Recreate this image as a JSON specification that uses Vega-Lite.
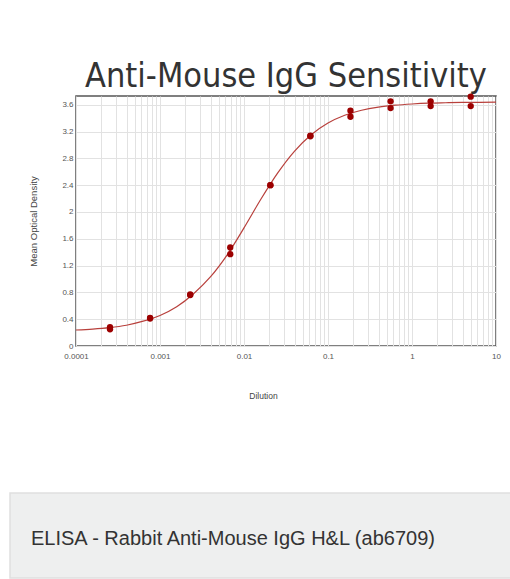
{
  "$schema": "https://vega.github.io/schema/vega-lite/v6.json",
  "background": "white",
  "padding": {"left": 9, "top": 58, "right": 0, "bottom": 0},
  "autosize": {"type": "pad"},
  "spacing": 91,
  "config": {
    "font": "Liberation Sans",
    "axis": {
      "labelFont": "Liberation Sans",
      "labelFontSize": 8,
      "labelColor": "#555555",
      "titleFont": "Liberation Sans",
      "titleFontWeight": "normal",
      "titleColor": "#444444",
      "gridColor": "#e2e2e2",
      "gridWidth": 1
    }
  },
  "datasets": {
    "curve": [
      {"dilution": 0.0001, "od": 0.239},
      {"dilution": 0.000158, "od": 0.252},
      {"dilution": 0.000251, "od": 0.274},
      {"dilution": 0.000398, "od": 0.31},
      {"dilution": 0.000631, "od": 0.37},
      {"dilution": 0.001, "od": 0.455},
      {"dilution": 0.00158, "od": 0.585},
      {"dilution": 0.00251, "od": 0.78},
      {"dilution": 0.00398, "od": 1.03},
      {"dilution": 0.00631, "od": 1.36},
      {"dilution": 0.01, "od": 1.762},
      {"dilution": 0.0158, "od": 2.185},
      {"dilution": 0.0251, "od": 2.579},
      {"dilution": 0.0398, "od": 2.905},
      {"dilution": 0.0631, "od": 3.152},
      {"dilution": 0.1, "od": 3.326},
      {"dilution": 0.158, "od": 3.442},
      {"dilution": 0.251, "od": 3.517},
      {"dilution": 0.398, "od": 3.564},
      {"dilution": 0.631, "od": 3.593},
      {"dilution": 1, "od": 3.611},
      {"dilution": 1.585, "od": 3.623},
      {"dilution": 2.512, "od": 3.629},
      {"dilution": 3.981, "od": 3.634},
      {"dilution": 6.31, "od": 3.636},
      {"dilution": 10, "od": 3.638}
    ],
    "points": [
      {"dilution": 0.000254, "od": 0.25},
      {"dilution": 0.000254, "od": 0.28},
      {"dilution": 0.000762, "od": 0.41},
      {"dilution": 0.000762, "od": 0.42},
      {"dilution": 0.00229, "od": 0.76},
      {"dilution": 0.00229, "od": 0.77},
      {"dilution": 0.00686, "od": 1.47},
      {"dilution": 0.00686, "od": 1.37},
      {"dilution": 0.0206, "od": 2.4},
      {"dilution": 0.0206, "od": 2.4},
      {"dilution": 0.0617, "od": 3.13},
      {"dilution": 0.0617, "od": 3.14},
      {"dilution": 0.185, "od": 3.51},
      {"dilution": 0.185, "od": 3.42},
      {"dilution": 0.556, "od": 3.65},
      {"dilution": 0.556, "od": 3.55},
      {"dilution": 1.667, "od": 3.65},
      {"dilution": 1.667, "od": 3.58},
      {"dilution": 5, "od": 3.72},
      {"dilution": 5, "od": 3.58}
    ]
  },
  "vconcat": [
    {
      "spacing": 0,
      "hconcat": [
        {
          "width": 17,
          "height": 250,
          "data": {"values": []},
          "mark": "point",
          "view": {"stroke": null}
        },
        {
          "width": 420,
          "height": 250,
          "title": {
            "text": "Anti-Mouse IgG Sensitivity",
            "font": "DejaVu Sans Condensed, DejaVu Sans",
            "fontSize": 34,
            "fontWeight": "normal",
            "color": "#333333",
            "anchor": "middle",
            "offset": 0
          },
          "view": {"stroke": "#555555", "strokeWidth": 1.5},
          "encoding": {
            "x": {
              "field": "dilution",
              "type": "quantitative",
              "title": "Dilution",
              "scale": {"type": "log", "domain": [0.0001, 10], "nice": false},
              "axis": {
                "values": [0.0001, 0.0002, 0.0003, 0.0004, 0.0005, 0.0006, 0.0007, 0.0008, 0.0009,
                           0.001, 0.002, 0.003, 0.004, 0.005, 0.006, 0.007, 0.008, 0.009,
                           0.01, 0.02, 0.03, 0.04, 0.05, 0.06, 0.07, 0.08, 0.09,
                           0.1, 0.2, 0.3, 0.4, 0.5, 0.6, 0.7, 0.8, 0.9,
                           1, 2, 3, 4, 5, 6, 7, 8, 9, 10],
                "format": "~g",
                "labelExpr": "abs(log(datum.value)/LN10 - round(log(datum.value)/LN10)) < 0.001 ? datum.label : ''",
                "labelOverlap": false,
                "labelFlush": false,
                "labelBound": false,
                "ticks": false,
                "domain": false,
                "grid": true,
                "labelPadding": 6,
                "titlePadding": 31,
                "titleFontSize": 8.5,
                "titleX": 187
              }
            },
            "y": {
              "field": "od",
              "type": "quantitative",
              "title": "Mean Optical Density",
              "scale": {"domain": [0, 3.73], "nice": false, "zero": true},
              "axis": {
                "values": [0, 0.4, 0.8, 1.2, 1.6, 2, 2.4, 2.8, 3.2, 3.6],
                "format": "~g",
                "labelFlush": false,
                "labelOverlap": false,
                "ticks": false,
                "domain": false,
                "grid": true,
                "labelPadding": 3,
                "titlePadding": 23.5,
                "titleFontSize": 9.5
              }
            }
          },
          "layer": [
            {
              "data": {"name": "curve"},
              "mark": {"type": "line", "color": "#b8403c", "strokeWidth": 1.2, "interpolate": "monotone"}
            },
            {
              "data": {"name": "points"},
              "mark": {"type": "circle", "color": "#9c0000", "size": 40, "opacity": 1}
            }
          ]
        }
      ]
    },
    {
      "width": 501,
      "height": 85,
      "data": {"values": [{"caption": "ELISA - Rabbit Anti-Mouse IgG H&L (ab6709)"}]},
      "mark": {
        "type": "text",
        "align": "left",
        "baseline": "alphabetic",
        "dx": -229.5,
        "dy": 9.5,
        "font": "Liberation Sans",
        "fontSize": 20,
        "color": "#333333"
      },
      "encoding": {"text": {"field": "caption"}},
      "view": {"fill": "#eeefef", "stroke": "#e0e0e0", "strokeWidth": 1.5}
    }
  ]
}
